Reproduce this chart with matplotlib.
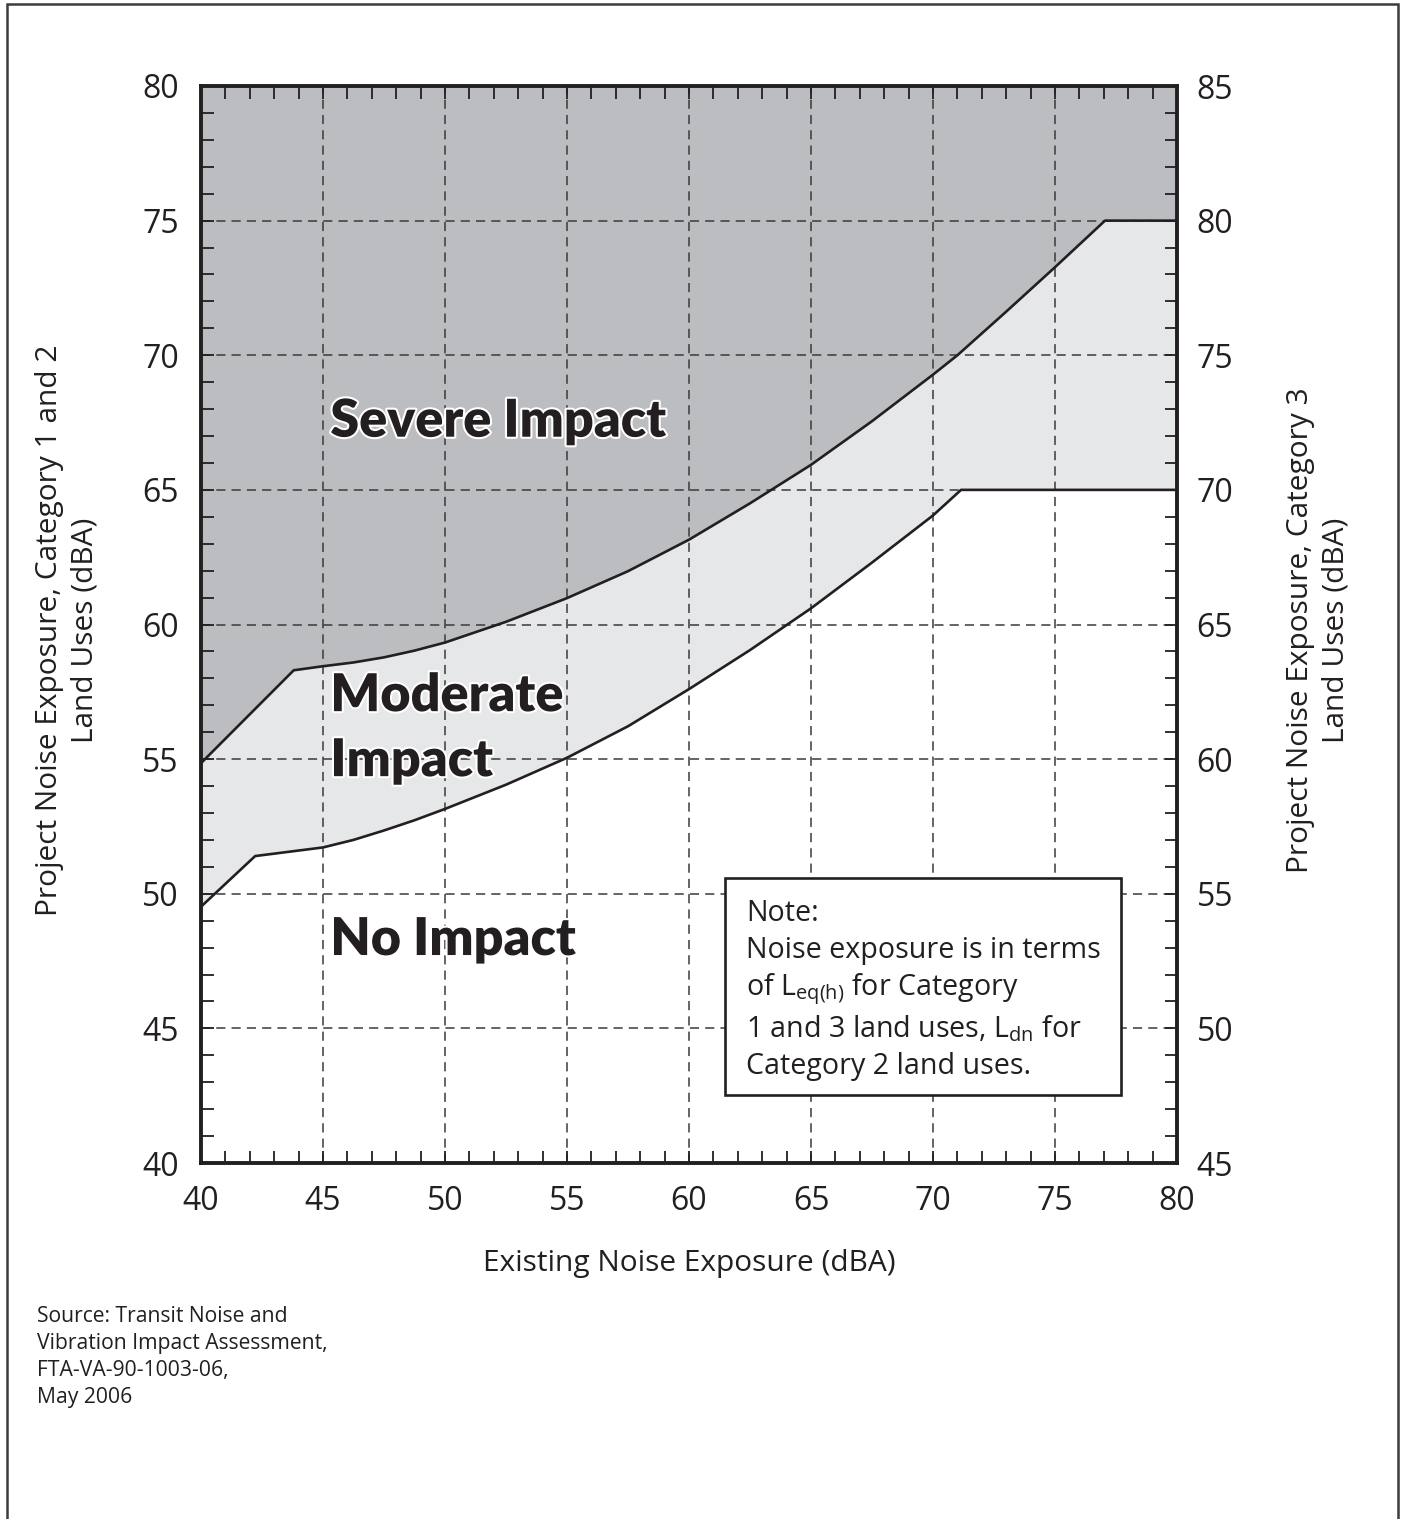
"""
FTA noise impact criteria chart (Category 1/2 on the left axis, Category 3 on the right).
"""
import matplotlib
matplotlib.use("Agg")
import numpy as np
import matplotlib.pyplot as plt
import matplotlib.patches as mpatches
import matplotlib.patheffects as pe
from matplotlib.ticker import MultipleLocator

# ── data ──────────────────────────────────────────────────────
# severe impact onset, Category 1 & 2 (dBA)
severe_x = [40, 43.8, 45, 46.25, 47.5, 48.75, 50, 52.5, 55, 57.5, 60, 62.5, 65, 67.5,
            70, 71, 73, 75, 77.05, 80]
severe_y = [54.85, 58.3, 58.45, 58.59, 58.78, 59.03, 59.33, 60.1, 60.98, 61.98, 63.15,
            64.5, 65.93, 67.55, 69.28, 70.0, 71.62, 73.27, 75.0, 75.0]

# moderate impact onset, Category 1 & 2 (dBA)
moderate_x = [40, 42.22, 45, 46.25, 47.5, 48.75, 50, 52.5, 55, 57.5, 60, 62.5, 65, 67.5,
              70, 71.15, 80]
moderate_y = [49.52, 51.4, 51.72, 52.0, 52.35, 52.73, 53.15, 54.05, 55.05, 56.22, 57.6,
              59.05, 60.6, 62.3, 64.05, 65.0, 65.0]

x_lim = (40, 80)
y_lim = (40, 80)
y3_offset = 5   # Category 3 axis is 5 dB above Category 1/2

region_labels = ["Severe Impact", "Moderate\nImpact", "No Impact"]
region_pos = [(45.3, 67.55), (45.3, 56.15), (45.3, 48.3)]

note_lines = [
    "Note:",
    "Noise exposure is in terms",
    r"of L$_\mathregular{eq(h)}$ for Category",
    r"1 and 3 land uses, L$_\mathregular{dn}$ for",
    "Category 2 land uses.",
]

source_text = ("Source: Transit Noise and\nVibration Impact Assessment,\n"
               "FTA-VA-90-1003-06,\nMay 2006")

# ── style ────────────────────────────────────────────────────
plt.rcParams["font.family"] = ["Open Sans", "DejaVu Sans"]
plt.rcParams["mathtext.fontset"] = "custom"
plt.rcParams["mathtext.rm"] = "Open Sans"

C_SEVERE = "#BCBDC1"
C_MODERATE = "#E6E7E9"
C_INK = "#231F20"
C_GRID = "#3A3A3A"

W, H = 1404, 1519
fig = plt.figure(figsize=(W / 100, H / 100), dpi=100)
ax = fig.add_axes([201 / W, 1 - 1163 / H, (1177 - 201) / W, (1163 - 86) / H])

# fills: severe above the upper curve, moderate between the two curves
ax.fill_between(severe_x, severe_y, y_lim[1], color=C_SEVERE, lw=0, zorder=1)
xs = np.union1d(severe_x, moderate_x)
up = np.interp(xs, severe_x, severe_y)
lo = np.interp(xs, moderate_x, moderate_y)
ax.fill_between(xs, lo, up, color=C_MODERATE, lw=0, zorder=1)

ax.plot(severe_x, severe_y, color=C_INK, lw=1.9, zorder=3, solid_joinstyle="round")
ax.plot(moderate_x, moderate_y, color=C_INK, lw=1.9, zorder=3, solid_joinstyle="round")

ax.set_xlim(*x_lim)
ax.set_ylim(*y_lim)
ax.xaxis.set_major_locator(MultipleLocator(5))
ax.xaxis.set_minor_locator(MultipleLocator(1))
ax.yaxis.set_major_locator(MultipleLocator(5))
ax.yaxis.set_minor_locator(MultipleLocator(1))
ax.grid(True, which="major", color=C_GRID, lw=1.1, linestyle=(0, (6, 4)), zorder=2)

for s in ax.spines.values():
    s.set_linewidth(2.8)
    s.set_color(C_INK)
    s.set_zorder(6)

ax.tick_params(which="both", direction="in", top=True, right=False,
               color=C_INK, width=1.3, length=9, labelsize=23, labelcolor=C_INK)
ax.tick_params(axis="x", pad=16)
ax.tick_params(axis="y", pad=16)

ax2 = ax.twinx()
ax2.set_ylim(y_lim[0] + y3_offset, y_lim[1] + y3_offset)
ax2.yaxis.set_major_locator(MultipleLocator(5))
ax2.yaxis.set_minor_locator(MultipleLocator(1))
ax2.tick_params(which="both", direction="in", color=C_INK, width=1.3,
                length=9, labelsize=23, labelcolor=C_INK, pad=14)
for s in ax2.spines.values():
    s.set_visible(False)

ax.set_xlabel("Existing Noise Exposure (dBA)", fontsize=21.5, color=C_INK, labelpad=22)

fig.text(67 / W, 1 - 630 / H, "Project Noise Exposure, Category 1 and 2\nLand Uses (dBA)",
         rotation=90, ha="center", va="center", multialignment="center",
         fontsize=21.5, color=C_INK, linespacing=1.3)
fig.text(1318 / W, 1 - 630 / H, "Project Noise Exposure, Category 3\nLand Uses (dBA)",
         rotation=90, ha="center", va="center", multialignment="center",
         fontsize=21.5, color=C_INK, linespacing=1.3)

# region labels
for lab, (lx, ly) in zip(region_labels, region_pos):
    ax.text(lx, ly, lab, family="Lato", fontweight="heavy", fontsize=37.5,
            color=C_INK, ha="left", va="center", linespacing=1.4, zorder=7,
            path_effects=[pe.withStroke(linewidth=3, foreground="white")])

# note box
box = mpatches.Rectangle((61.48, 42.53), 77.72 - 61.48, 50.58 - 42.53,
                         facecolor="white", edgecolor=C_INK, lw=1.9, zorder=5)
ax.add_patch(box)
note_y = [49.25, 47.9, 46.45, 44.97, 43.6]
for ln, ny in zip(note_lines, note_y):
    ax.text(62.35, ny, ln, fontsize=20.6, color=C_INK, ha="left", va="center", zorder=6)

fig.text(37 / W, 1 - 1306 / H, source_text, fontsize=15.2, color=C_INK,
         ha="left", va="top", linespacing=1.38)

# outer frame of the page
fig.patches.append(mpatches.Rectangle((7 / W, -0.02), (1398 - 7) / W, 1.02 - 4 / H,
                                      transform=fig.transFigure, fill=False,
                                      edgecolor="#3C3C3C", lw=1.8))

fig.savefig("out.png", dpi=100)
